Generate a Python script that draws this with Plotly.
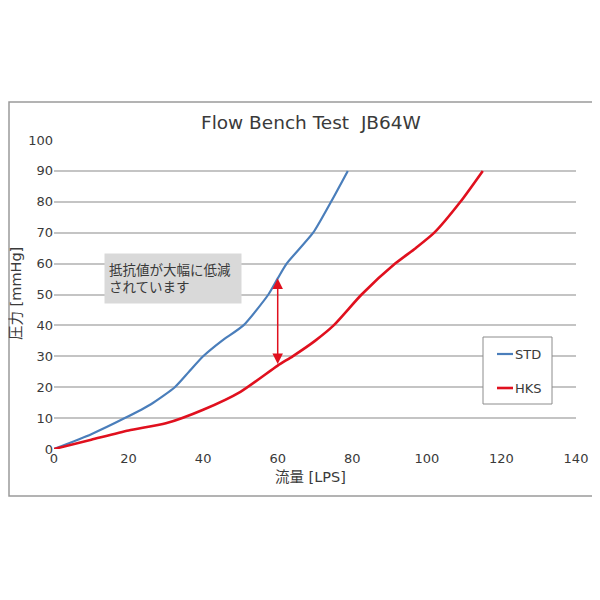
import plotly.graph_objects as go

# flow [LPS] vs pressure [mmHg]
std_flow = [0, 10, 19, 26, 32.4, 36.2, 40, 45, 50.8, 57.5, 60, 62.4, 69.5, 74.3, 78.8]
std_press = [0, 4.8, 10, 14.5, 20, 25, 30, 35, 40, 50, 55.2, 60, 70, 80, 90]

hks_flow = [0, 10, 20, 30, 40, 50, 60, 64, 70, 75, 82.5, 91.5, 97, 102, 109, 115]
hks_press = [0, 3, 6, 8.3, 12.7, 18.5, 27, 30, 35, 40, 50, 60, 65, 70, 80, 90]

x_ticks = [0, 20, 40, 60, 80, 100, 120, 140]
y_ticks = [0, 10, 20, 30, 40, 50, 60, 70, 80, 90, 100]

BLUE = "#4a7ebb"
RED = "#e0101e"
GRID = "#c4c4c4"
TXT = "#3a3a3a"
FONT = "DejaVu Sans, Noto Sans CJK JP, sans-serif"

# the page body adds 8px, so the figure is drawn 8px smaller and everything measured
# on the 600x600 reference is shifted back by that much
OFF = 8
L, R, T, B = 54, 576, 140, 449   # plot area on the reference, pixels
W = H = 600 - OFF


def px(x):
    return (x - L) / (R - L)


def py(y):
    return (B - y) / (B - T)


def label(text, x, y, size=13, **kw):
    d = dict(text=text, xref="paper", yref="paper", x=px(x), y=py(y),
             xanchor="center", yanchor="middle", showarrow=False,
             font=dict(family=FONT, size=size, color=TXT))
    d.update(kw)
    return d


fig = go.Figure()
fig.add_trace(go.Scatter(x=std_flow, y=std_press, mode="lines", name="STD",
                         line=dict(color=BLUE, width=2.2, shape="spline", smoothing=0.6)))
fig.add_trace(go.Scatter(x=hks_flow, y=hks_press, mode="lines", name="HKS",
                         line=dict(color=RED, width=2.6, shape="spline", smoothing=0.6)))

shapes = [
    # outer frame (left edge kept inside the drawable figure)
    dict(type="rect", xref="paper", yref="paper", x0=px(OFF + 1), x1=px(597),
         y0=py(496), y1=py(102),
         line=dict(color="#9a9a9a", width=1.5), fillcolor="rgba(0,0,0,0)", layer="below"),
    # legend box
    dict(type="rect", xref="paper", yref="paper", x0=px(483), x1=px(552), y0=py(404), y1=py(337),
         line=dict(color="#8c8c8c", width=1), fillcolor="white", layer="above"),
    dict(type="line", xref="paper", yref="paper", x0=px(497), x1=px(513), y0=py(354), y1=py(354),
         line=dict(color=BLUE, width=2.2)),
    dict(type="line", xref="paper", yref="paper", x0=px(497), x1=px(513), y0=py(388), y1=py(388),
         line=dict(color=RED, width=2.6)),
]

annotations = [
    label("Flow Bench Test  JB64W", 311, 122, size=18.5),
    label("圧力 [mmHg]", 16, 294, size=14.5, textangle=-90),
    label("流量 [LPS]", 310, 477, size=14.5),
    label("STD", 513, 354, xanchor="left"),
    label("HKS", 513, 388, xanchor="left"),
    # callout box
    label("抵抗値が大幅に低減<br>されています", 104, 253, size=13.5,
          xanchor="left", yanchor="top", align="left",
          width=128, height=41, bgcolor="#d9d9d9", borderpad=4),
    # double-headed arrow between the curves at 60 LPS
    dict(x=60, y=55.2, ax=60, ay=27, xref="x", yref="y", axref="x", ayref="y",
         text="", showarrow=True, arrowside="end+start", arrowhead=2, arrowsize=1.4,
         arrowwidth=1.5, arrowcolor=RED, standoff=0, startstandoff=0),
]

fig.update_layout(
    width=W, height=H,
    margin=dict(l=L - OFF, r=600 - R, t=T - OFF, b=600 - B),
    paper_bgcolor="white", plot_bgcolor="white",
    showlegend=False,
    font=dict(family=FONT, size=13, color=TXT),
    shapes=shapes,
    annotations=annotations,
)
fig.update_xaxes(range=[0, 140], tickvals=x_ticks, showgrid=False, zeroline=False,
                 showline=False, ticks="", automargin=False, tickfont=dict(size=13, color=TXT))
fig.update_yaxes(range=[0, 100], tickvals=y_ticks, showgrid=True, gridcolor=GRID, gridwidth=1.6,
                 zeroline=False, showline=False, ticks="", automargin=False,
                 tickfont=dict(size=13, color=TXT))

fig.write_html("out.html")
